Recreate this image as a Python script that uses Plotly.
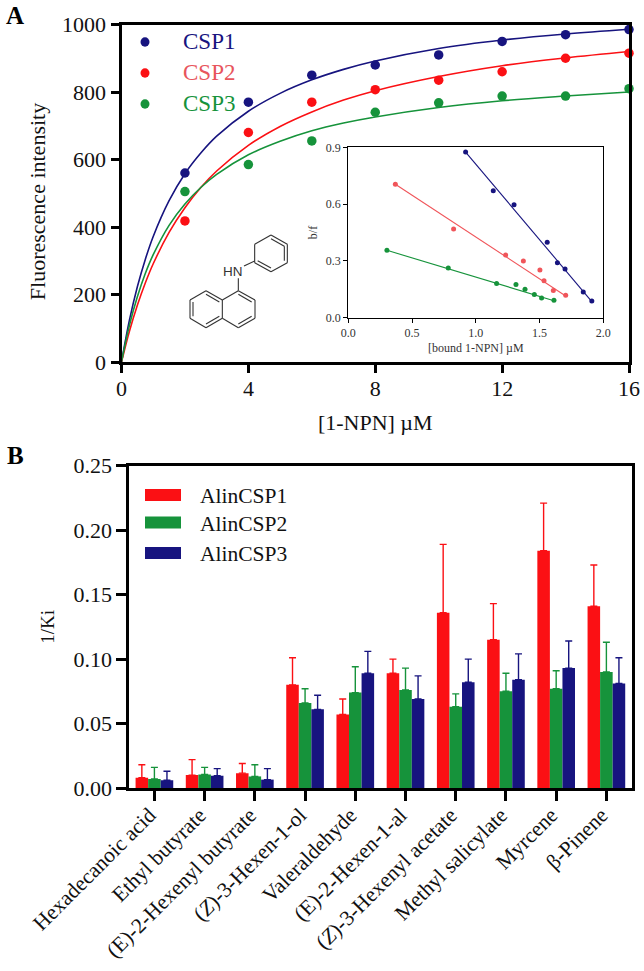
import plotly.graph_objects as go

W, H = 644, 971
FONT = "Liberation Serif"
NAVY, RED, GREEN = "#17147f", "#fb1014", "#16933b"

# Panel A: binding curves
conc = [2, 4, 6, 8, 10, 12, 14, 16]
csp1_pts = [560, 770, 850, 880, 910, 950, 970, 985]
csp2_pts = [418, 680, 770, 807, 835, 860, 900, 915]
csp3_pts = [505, 585, 655, 740, 768, 788, 788, 810]
curve_x = [0, .25, .5, .75, 1, 1.5, 2, 2.5, 3, 4, 5, 6, 7, 8, 10, 12, 14, 16]
csp1_curve = [0, 124, 223, 304, 372, 478, 558, 619, 669, 743, 796, 836, 867, 892, 929, 954, 972, 986]
csp2_curve = [0, 91, 168, 234, 291, 384, 457, 517, 566, 642, 698, 741, 776, 804, 846, 878, 901, 920]
csp3_curve = [0, 109, 193, 262, 318, 405, 468, 517, 556, 614, 654, 685, 708, 726, 754, 774, 788, 800]

# Panel A inset: Scatchard plot
csp1_bound = [.92, 1.137, 1.30, 1.56, 1.64, 1.70, 1.843, 1.91]
csp1_bf = [.875, .671, .597, .398, .29, .257, .136, .088]
csp2_bound = [.369, .826, 1.234, 1.373, 1.503, 1.535, 1.608, 1.705]
csp2_bf = [.705, .468, .331, .299, .252, .195, .144, .118]
csp3_bound = [.303, .784, 1.163, 1.315, 1.386, 1.459, 1.516, 1.613]
csp3_bf = [.356, .262, .180, .176, .150, .122, .104, .092]
csp1_fit_x, csp1_fit_y = [.92, 1.91], [.875, .085]
csp2_fit_x, csp2_fit_y = [.369, 1.705], [.705, .115]
csp3_fit_x, csp3_fit_y = [.303, 1.613], [.356, .09]

# Panel B: competitive binding
ligands = ["Hexadecanoic acid", "Ethyl butyrate", "(E)-2-Hexenyl butyrate",
           "(<i>Z</i>)-3-Hexen-1-ol", "Valeraldehyde", "(E)-2-Hexen-1-al",
           "(<i>Z</i>)-3-Hexenyl acetate", "Methyl salicylate", "Myrcene", "β-Pinene"]
alin1 = [.008, .010, .0115, .080, .057, .089, .136, .115, .184, .141]
alin2 = [.007, .0105, .009, .066, .074, .076, .063, .075, .077, .090]
alin3 = [.006, .0095, .0065, .061, .089, .069, .082, .084, .093, .081]
alin1_err = [.010, .012, .0075, .021, .012, .011, .053, .028, .037, .032]
alin2_err = [.009, .0055, .009, .011, .020, .017, .010, .014, .014, .023]
alin3_err = [.007, .0055, .0085, .011, .017, .018, .018, .020, .021, .020]


def px(x):
    return x / W


def py(y):
    return 1 - y / H


fig = go.Figure()

for name, col, pts, curve in [("CSP1", NAVY, csp1_pts, csp1_curve),
                              ("CSP2", RED, csp2_pts, csp2_curve),
                              ("CSP3", GREEN, csp3_pts, csp3_curve)]:
    fig.add_trace(go.Scatter(x=curve_x, y=curve, mode="lines", line=dict(color=col, width=1.6, shape="spline"),
                             showlegend=False, xaxis="x", yaxis="y", cliponaxis=False))
    fig.add_trace(go.Scatter(x=conc, y=pts, mode="markers", marker=dict(color=col, size=9.5), name=name,
                             showlegend=False, xaxis="x", yaxis="y", cliponaxis=False))

INSET_RED = "#f0555a"
for col, bx, by, fx, fy in [(NAVY, csp1_bound, csp1_bf, csp1_fit_x, csp1_fit_y),
                            (INSET_RED, csp2_bound, csp2_bf, csp2_fit_x, csp2_fit_y),
                            (GREEN, csp3_bound, csp3_bf, csp3_fit_x, csp3_fit_y)]:
    fig.add_trace(go.Scatter(x=fx, y=fy, mode="lines", line=dict(color=col, width=1.1),
                             showlegend=False, xaxis="x2", yaxis="y2"))
    fig.add_trace(go.Scatter(x=bx, y=by, mode="markers", marker=dict(color=col, size=5),
                             showlegend=False, xaxis="x2", yaxis="y2"))

for name, col, vals, errs in [("AlinCSP1", RED, alin1, alin1_err),
                              ("AlinCSP2", GREEN, alin2, alin2_err),
                              ("AlinCSP3", NAVY, alin3, alin3_err)]:
    fig.add_trace(go.Bar(x=ligands, y=vals, name=name, marker=dict(color=col, line_width=0), showlegend=False,
                         error_y=dict(type="data", symmetric=False, array=errs, arrayminus=[0] * len(errs),
                                      color=col, thickness=1.4, width=3.5),
                         xaxis="x3", yaxis="y3"))

big = dict(family=FONT, size=22, color="#111111")
small = dict(family=FONT, size=12, color="#333333")
annotations = []
shapes = []


def text(x, y, s, font, anchor="left"):
    annotations.append(dict(x=px(x), y=py(y), xref="paper", yref="paper", text=s, showarrow=False,
                            font=font, xanchor=anchor, yanchor="middle"))


text(4, 16, "<b>A</b>", dict(family=FONT, size=25, color="black"))
text(5, 455, "<b>B</b>", dict(family=FONT, size=25, color="black"))

# Panel A legend
for y, s, mc, tc in [(42, "CSP1", NAVY, NAVY), (73, "CSP2", RED, "#e8555c"), (104, "CSP3", GREEN, GREEN)]:
    shapes.append(dict(type="circle", xref="paper", yref="paper", x0=px(140.5), x1=px(149.5),
                       y0=py(y + 4.7), y1=py(y - 4.7), fillcolor=mc, line_width=0))
    text(181, y - 0.5, s, dict(family=FONT, size=23, color=tc))

# Panel B legend
for y, s, col in [(495, "AlinCSP1", RED), (522.5, "AlinCSP2", GREEN), (553, "AlinCSP3", NAVY)]:
    shapes.append(dict(type="rect", xref="paper", yref="paper", x0=px(145), x1=px(181),
                       y0=py(y + 6), y1=py(y - 6), fillcolor=col, line_width=0))
    text(198, y + 1, s, dict(family=FONT, size=21.5, color="#111111"))

# 1-NPN structure
zoom_segments = [
    (303, 315, 352, 343), (352, 343, 352, 398), (352, 398, 303, 425), (303, 425, 254, 398), (254, 398, 254, 343),
    (254, 343, 303, 315), (303, 326, 343, 349), (343, 349, 343, 392), (303, 414, 263, 392),
    (222, 408, 254, 393), (205, 445, 205, 482),
    (205, 482, 255, 510), (255, 510, 255, 565), (255, 565, 205, 593), (205, 593, 157, 565), (157, 565, 157, 510),
    (157, 510, 205, 482), (205, 493, 245, 516), (245, 559, 205, 582),
    (157, 510, 108, 482), (108, 482, 60, 510), (60, 510, 60, 565), (60, 565, 108, 593), (108, 593, 157, 565),
    (108, 493, 148, 516), (69, 516, 69, 559), (108, 582, 148, 559),
]
for a, b, c, d in zoom_segments:
    shapes.append(dict(type="line", xref="paper", yref="paper", x0=px(170 + a / 3), y0=py(130 + b / 3),
                       x1=px(170 + c / 3), y1=py(130 + d / 3), line=dict(color="#333333", width=1.1)))
text(233.5, 272, "HN", dict(family="Liberation Sans", size=13.5, color="#333333"), "center")

axis_common = dict(showgrid=False, zeroline=False, showline=True, linecolor="black", mirror=True,
                   ticks="outside", tickcolor="black", automargin=False)

fig.update_layout(
    width=W, height=H, margin=dict(l=0, r=0, t=0, b=0), paper_bgcolor="white", plot_bgcolor="white",
    barmode="group", bargap=0.25, bargroupgap=0, showlegend=False,
    annotations=annotations, shapes=shapes,
    xaxis=dict(domain=[px(121.5), px(629)], range=[0, 16], tickvals=[0, 4, 8, 12, 16], anchor="y",
               linewidth=3, tickwidth=3, ticklen=8, tickfont=big, ticklabelstandoff=-3,
               title=dict(text="[1-NPN] µM", font=big, standoff=15), **axis_common),
    yaxis=dict(domain=[py(362), py(24.5)], range=[0, 1000], tickvals=[0, 200, 400, 600, 800, 1000], anchor="x",
               linewidth=3, tickwidth=3, ticklen=8, tickfont=big,
               title=dict(text="Fluorescence intensity&nbsp;&nbsp;&nbsp;", font=big, standoff=11), **axis_common),
    xaxis2=dict(domain=[px(348.3), px(603.3)], range=[0, 2], tickvals=[0, .5, 1, 1.5, 2], tickformat=".1f", anchor="y2",
                linewidth=1.4, tickwidth=1.4, ticklen=4, tickfont=small,
                title=dict(text="[bound 1-NPN] µM", font=small, standoff=4), **axis_common),
    yaxis2=dict(domain=[py(317.7), py(147.3)], range=[0, .9], tickvals=[0, .3, .6, .9], tickformat=".1f", anchor="x2",
                linewidth=1.4, tickwidth=1.4, ticklen=4, tickfont=small,
                title=dict(text="b/f", font=small, standoff=5), **axis_common),
    xaxis3=dict(domain=[px(129.3), px(631.5)], range=[-.5, 9.5], type="category", anchor="y3", categoryorder="array",
                categoryarray=ligands, tickangle=-45, linewidth=3, tickwidth=3, ticklen=10,
                ticklabelstandoff=-7, ticklabelshift=-5,
                tickfont=dict(family=FONT, size=21.5, color="#111111"), **axis_common),
    yaxis3=dict(domain=[py(788), py(465.7)], range=[0, .25], tickvals=[0, .05, .1, .15, .2, .25], tickformat=".2f",
                anchor="x3", linewidth=3, tickwidth=3, ticklen=10, tickfont=big,
                title=dict(text="1/Ki", font=dict(family=FONT, size=19, color="#111111"), standoff=14), **axis_common),
)

fig.write_html("out.html", config=dict(displayModeBar=False),
               post_script="document.body.style.margin='0';document.documentElement.style.overflow='hidden';")
